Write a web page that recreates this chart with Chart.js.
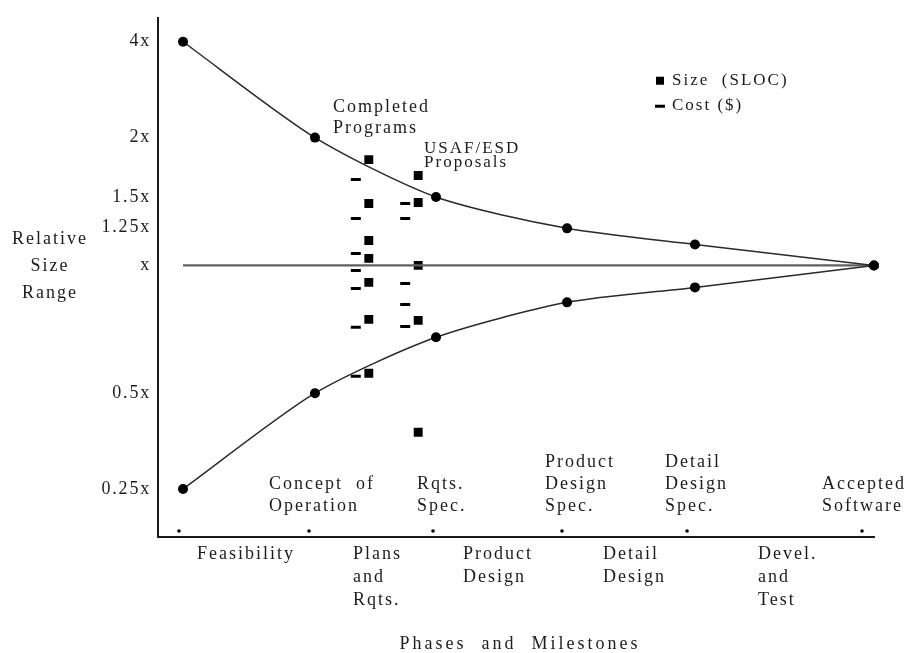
<!DOCTYPE html>
<html>
<head>
<meta charset="utf-8">
<script src="https://cdn.jsdelivr.net/npm/chart.js@4.4.0/dist/chart.umd.min.js"></script>
<style>
  html, body { margin: 0; padding: 0; background: #fff; }
  #wrap { width: 912px; height: 653px; position: relative; }
</style>
</head>
<body>
<div id="wrap"><canvas id="chart"></canvas></div>
<script>
// Y axis: relative size range on a compressed log-like scale (x = 0, 2x = 1, 0.5x = -1)
const yTickValues = [1.75, 1.0, 0.53, 0.30, 0, -1.0, -1.75];
const yTickLabels = ['4x', '2x', '1.5x', '1.25x', 'x', '0.5x', '0.25x'];

// X axis: milestones (0 = start of Feasibility)
const milestoneX = [0, 1, 1.954, 2.946, 3.908, 5.254];

// cone of uncertainty
const coneX = [0.031, 1.046, 1.977, 2.985, 3.969, 5.346];
const upperRange = [1.75, 1.0, 0.535, 0.29, 0.164, 0];
const lowerRange = [-1.75, -1.0, -0.5625, -0.289, -0.172, 0];

// observed estimates: Completed Programs (left column) and USAF/ESD Proposals (right column)
const sizeX = [1.46, 1.46, 1.46, 1.46, 1.46, 1.46, 1.46, 1.84, 1.84, 1.84, 1.84, 1.84];
const sizeY = [0.828, 0.484, 0.195, 0.055, -0.133, -0.422, -0.844, 0.703, 0.492, 0, -0.430, -1.305];
const costX = [1.36, 1.36, 1.36, 1.36, 1.36, 1.36, 1.36, 1.74, 1.74, 1.74, 1.74, 1.74];
const costY = [0.672, 0.367, 0.094, -0.039, -0.180, -0.484, -0.867, 0.484, 0.367, -0.141, -0.305, -0.477];

// text labels
const milestoneLabels = [['Concept  of', 'Operation'], ['Rqts.', 'Spec.'], ['Product', 'Design', 'Spec.'], ['Detail', 'Design', 'Spec.'], ['Accepted', 'Software']];
const milestoneLabelX = [0.692, 1.831, 2.815, 3.738, 4.946];
const phaseLabels = [['Feasibility'], ['Plans', 'and', 'Rqts.'], ['Product', 'Design'], ['Detail', 'Design'], ['Devel.', 'and', 'Test']];
const phaseLabelX = [0.138, 1.338, 2.185, 3.262, 4.454];

const FONT = '"Liberation Serif", "Times New Roman", serif';
const INK = '#1c1c1c';

Chart.defaults.font.family = FONT;
Chart.defaults.font.size = 18;
Chart.defaults.color = INK;

const xy = (xs, ys) => xs.map((x, i) => ({ x: x, y: ys[i] }));

// Texte, légende et titres des axes
const textPlugin = {
    id: 'texts',
    beforeDraw(chart) {
        chart.ctx.letterSpacing = '1.8px';
    },
    afterDraw(chart) {
        const ctx = chart.ctx;
        const xs = chart.scales.x, ys = chart.scales.y;
        ctx.save();
        ctx.letterSpacing = '2px';
        ctx.fillStyle = INK;
        ctx.font = '18px ' + FONT;
        ctx.textBaseline = 'middle';
        ctx.textAlign = 'left';

        // milestones above the axis, bottom line aligned
        milestoneLabels.forEach((lines, i) => {
            const px = xs.getPixelForValue(milestoneLabelX[i]);
            const bottom = ys.getPixelForValue(-1.883);
            lines.forEach((t, j) => {
                ctx.fillText(t, px, bottom - (lines.length - 1 - j) * 22);
            });
        });

        // phases under the axis
        phaseLabels.forEach((lines, i) => {
            const px = xs.getPixelForValue(phaseLabelX[i]);
            const top = xs.top + 17;
            lines.forEach((t, j) => ctx.fillText(t, px, top + j * 23));
        });

        // annotations
        let px = xs.getPixelForValue(1.185), py = ys.getPixelForValue(1.234);
        ctx.fillText('Completed', px, py);
        ctx.fillText('Programs', px, py + 21);
        ctx.font = '17px ' + FONT;
        px = xs.getPixelForValue(1.885); py = ys.getPixelForValue(0.914);
        ctx.fillText('USAF/ESD', px, py);
        ctx.fillText('Proposals', px, py + 14);

        // legend
        ctx.font = '17px ' + FONT;
        px = xs.getPixelForValue(3.70); py = ys.getPixelForValue(1.445);
        ctx.fillStyle = '#000';
        ctx.fillRect(px - 4, py - 4, 8, 8);
        ctx.fillRect(px - 5, py + 24, 10, 3);
        ctx.fillStyle = INK;
        ctx.fillText('Size  (SLOC)', px + 12, py);
        ctx.fillText('Cost ($)', px + 12, py + 25);

        // axis titles
        ctx.font = '18px ' + FONT;
        ctx.textAlign = 'center';
        ['Relative', 'Size', 'Range'].forEach((t, j) => ctx.fillText(t, 50, 239 + j * 27));
        ctx.letterSpacing = '3px';
        ctx.fillText('Phases  and  Milestones', 520, 644);
        ctx.restore();
    }
};

const coneStyle = {
    type: 'line',
    borderColor: '#2a2a2a',
    borderWidth: 1.5,
    tension: 0.25,
    pointRadius: 5,
    pointBackgroundColor: '#000',
    pointBorderWidth: 0,
    clip: false
};

const ctx = document.getElementById('chart').getContext('2d');
new Chart(ctx, {
    type: 'scatter',
    data: {
        datasets: [
            Object.assign({ label: 'Upper', data: xy(coneX, upperRange) }, coneStyle),
            Object.assign({ label: 'Lower', data: xy(coneX, lowerRange) }, coneStyle),
            {
                label: 'Middle',
                type: 'line',
                data: xy([coneX[0], coneX[coneX.length - 1]], [0, 0]),
                borderColor: '#606060',
                borderWidth: 2.2,
                pointRadius: 0,
                clip: false
            },
            {
                label: 'Size (SLOC)',
                data: xy(sizeX, sizeY),
                pointStyle: 'rect',
                pointRadius: 6.3,
                pointBackgroundColor: '#000',
                pointBorderWidth: 0
            },
            {
                label: 'Cost ($)',
                data: xy(costX, costY),
                pointStyle: 'line',
                pointRadius: 5,
                pointBorderColor: '#000',
                pointBorderWidth: 3
            },
            {
                label: 'Milestones',
                data: milestoneX.map(x => ({ x: x, y: -2.078 })),
                pointRadius: 1.8,
                pointBackgroundColor: '#000',
                pointBorderWidth: 0
            }
        ]
    },
    options: {
        responsive: true,
        maintainAspectRatio: false,
        animation: false,
        layout: { padding: { top: 17, right: 37.5, left: 0, bottom: 0 } },
        plugins: {
            legend: { display: false },
            tooltip: { enabled: false }
        },
        scales: {
            x: {
                type: 'linear',
                min: -0.1615,
                max: 5.35,
                grid: { display: false },
                border: { display: true, color: '#1a1a1a', width: 2 },
                ticks: { display: false },
                afterFit: s => { s.height = 116; }
            },
            y: {
                type: 'linear',
                min: -2.125,
                max: 1.9375,
                grid: { display: false, drawTicks: false },
                border: { display: true, color: '#1a1a1a', width: 2 },
                afterBuildTicks: s => { s.ticks = yTickValues.map(v => ({ value: v })); },
                ticks: {
                    padding: 7,
                    color: INK,
                    font: { size: 18 },
                    callback: (v, i) => yTickLabels[i]
                },
                afterFit: s => { s.width = 158; }
            }
        }
    },
    plugins: [textPlugin]
});
</script>
</body>
</html>
